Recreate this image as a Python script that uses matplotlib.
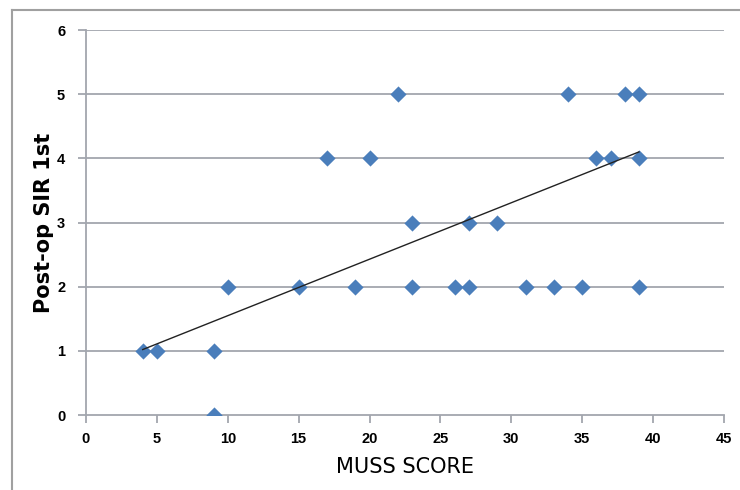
import numpy as np
import matplotlib
matplotlib.use("Agg")
import matplotlib.pyplot as plt
from matplotlib.lines import Line2D

muss_score = [4, 5, 9, 9, 10, 15, 17, 19, 20, 22, 23, 23, 26, 27, 27, 29,
              31, 33, 34, 35, 36, 37, 38, 39, 39, 39]
sir_first = [1, 1, 1, 0, 2, 2, 4, 2, 4, 5, 3, 2, 2, 3, 2, 3,
             2, 2, 5, 2, 4, 4, 5, 5, 4, 2]
# trend line end points
trend_x = [4, 39]
trend_y = [1.02, 4.10]
x_ticks = [0, 5, 10, 15, 20, 25, 30, 35, 40, 45]
y_ticks = [0, 1, 2, 3, 4, 5, 6]

grid_col = "#A3A6AE"
fig = plt.figure(figsize=(7.4, 4.9), dpi=100)
ax = fig.add_axes([86/740, 75/490, (724-86)/740, (415-30)/490])

for yv in y_ticks[1:]:
    ax.axhline(yv, color=grid_col, lw=1.3, zorder=1)

ax.scatter(muss_score, sir_first, marker="D", s=68, color="#4A7EBB", zorder=3, linewidths=0)
ax.plot(trend_x, trend_y, color="#222222", lw=1.0, zorder=4)

ax.set_xlim(0, 45)
ax.set_ylim(0, 6)
ax.set_xticks(x_ticks)
ax.set_yticks(y_ticks)
tick_font = dict(fontsize=10.5, fontweight="bold", family="Liberation Sans")
ax.set_xticklabels([str(v) for v in x_ticks], **tick_font)
ax.set_yticklabels([str(v) for v in y_ticks], **tick_font)
ax.tick_params(axis="x", direction="out", length=6, width=1.3, color=grid_col, pad=6)
ax.tick_params(axis="y", direction="out", length=6, width=1.3, color=grid_col, pad=9)
for s in ["top", "right"]:
    ax.spines[s].set_visible(False)
for s in ["left", "bottom"]:
    ax.spines[s].set_color(grid_col)
    ax.spines[s].set_linewidth(1.3)

ax.set_xlabel("MUSS SCORE", fontsize=15, labelpad=8)
ax.set_ylabel("Post-op SIR 1st", fontsize=15, fontweight="bold", labelpad=2)

# outer frame
fig.add_artist(Line2D([12/740, 12/740], [0, 1 - 10/490], transform=fig.transFigure,
                      color="#A0A0A0", lw=1.5))
fig.add_artist(Line2D([12/740, 1], [1 - 10/490, 1 - 10/490], transform=fig.transFigure,
                      color="#A0A0A0", lw=1.5))

fig.savefig("out.png", dpi=100)
